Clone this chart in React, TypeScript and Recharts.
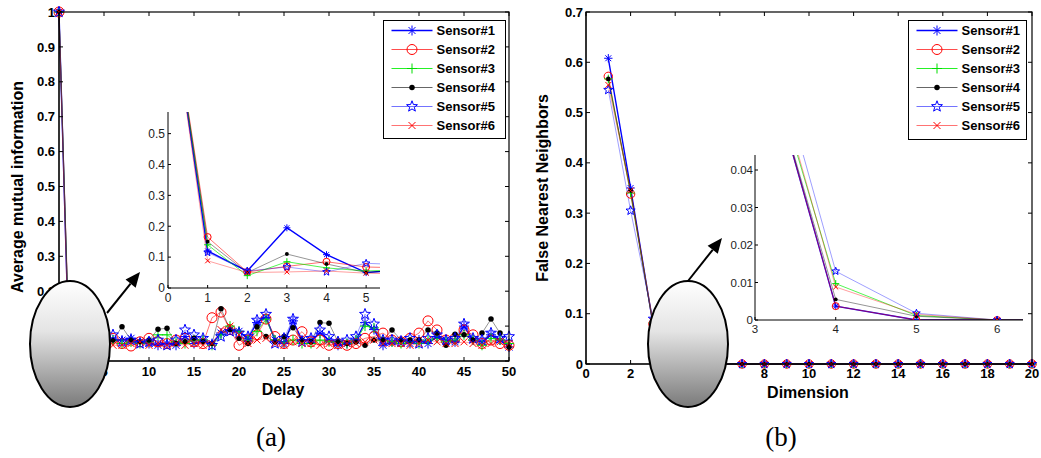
import React from 'react';
import { LineChart, Line, XAxis, YAxis, Legend } from 'recharts';

// ---------- data ----------
const delays = [0, 1, 2, 3, 4, 5, 6, 7, 8, 9, 10, 11, 12, 13, 14, 15, 16, 17, 18, 19, 20, 21, 22, 23, 24, 25, 26, 27, 28, 29, 30, 31, 32, 33, 34, 35, 36, 37, 38, 39, 40, 41, 42, 43, 44, 45, 46, 47, 48, 49, 50];
const amiS1 = [1, 0.12, 0.055, 0.195, 0.108, 0.05, 0.06, 0.06, 0.065, 0.055, 0.05, 0.045, 0.05, 0.045, 0.07, 0.05, 0.06, 0.05, 0.08, 0.09, 0.085, 0.065, 0.11, 0.125, 0.06, 0.05, 0.115, 0.06, 0.06, 0.08, 0.06, 0.045, 0.05, 0.06, 0.11, 0.09, 0.045, 0.055, 0.06, 0.05, 0.06, 0.05, 0.07, 0.06, 0.055, 0.1, 0.06, 0.055, 0.075, 0.06, 0.04];
const amiS2 = [1, 0.165, 0.052, 0.07, 0.085, 0.068, 0.065, 0.05, 0.043, 0.055, 0.065, 0.055, 0.05, 0.06, 0.065, 0.055, 0.05, 0.124, 0.14, 0.09, 0.045, 0.06, 0.075, 0.12, 0.07, 0.05, 0.06, 0.084, 0.055, 0.06, 0.045, 0.05, 0.045, 0.05, 0.065, 0.07, 0.08, 0.06, 0.055, 0.065, 0.08, 0.115, 0.089, 0.06, 0.065, 0.089, 0.075, 0.05, 0.06, 0.05, 0.045];
const amiS3 = [1, 0.14, 0.04, 0.085, 0.065, 0.055, 0.06, 0.05, 0.055, 0.05, 0.055, 0.075, 0.075, 0.055, 0.05, 0.06, 0.06, 0.045, 0.075, 0.1, 0.085, 0.06, 0.085, 0.12, 0.06, 0.055, 0.06, 0.05, 0.05, 0.06, 0.055, 0.055, 0.05, 0.06, 0.1, 0.095, 0.06, 0.055, 0.05, 0.055, 0.05, 0.06, 0.065, 0.055, 0.06, 0.075, 0.06, 0.045, 0.065, 0.06, 0.05];
const amiS4 = [1, 0.15, 0.05, 0.11, 0.078, 0.05, 0.06, 0.098, 0.06, 0.055, 0.06, 0.091, 0.094, 0.05, 0.055, 0.065, 0.055, 0.05, 0.15, 0.09, 0.065, 0.05, 0.098, 0.07, 0.055, 0.07, 0.095, 0.06, 0.055, 0.11, 0.108, 0.055, 0.05, 0.055, 0.045, 0.06, 0.06, 0.089, 0.06, 0.06, 0.06, 0.089, 0.08, 0.045, 0.077, 0.075, 0.06, 0.08, 0.12, 0.08, 0.04];
const amiS5 = [1, 0.115, 0.055, 0.068, 0.052, 0.08, 0.075, 0.055, 0.06, 0.05, 0.055, 0.06, 0.045, 0.06, 0.089, 0.075, 0.065, 0.045, 0.07, 0.085, 0.08, 0.07, 0.117, 0.134, 0.05, 0.065, 0.12, 0.055, 0.065, 0.089, 0.07, 0.055, 0.06, 0.07, 0.134, 0.106, 0.06, 0.06, 0.055, 0.065, 0.05, 0.065, 0.075, 0.06, 0.065, 0.106, 0.065, 0.06, 0.08, 0.065, 0.07];
const amiS6 = [1, 0.088, 0.05, 0.052, 0.055, 0.048, 0.045, 0.045, 0.05, 0.055, 0.045, 0.05, 0.045, 0.05, 0.045, 0.05, 0.045, 0.05, 0.09, 0.1, 0.075, 0.05, 0.06, 0.065, 0.05, 0.045, 0.055, 0.05, 0.05, 0.045, 0.05, 0.045, 0.05, 0.05, 0.055, 0.06, 0.05, 0.05, 0.05, 0.045, 0.05, 0.06, 0.055, 0.05, 0.05, 0.055, 0.05, 0.045, 0.05, 0.055, 0.05];

const dims = [1, 2, 3, 4, 5, 6, 7, 8, 9, 10, 11, 12, 13, 14, 15, 16, 17, 18, 19, 20];
const fnnS1 = [0.608, 0.35, 0.08, 0.0037, 0, 0, 0, 0, 0, 0, 0, 0, 0, 0, 0, 0, 0, 0, 0, 0];
const fnnS2 = [0.572, 0.338, 0.08, 0.0037, 0, 0, 0, 0, 0, 0, 0, 0, 0, 0, 0, 0, 0, 0, 0, 0];
const fnnS3 = [0.567, 0.34, 0.082, 0.0097, 0.0012, 0, 0, 0, 0, 0, 0, 0, 0, 0, 0, 0, 0, 0, 0, 0];
const fnnS4 = [0.567, 0.345, 0.08, 0.0055, 0.001, 0, 0, 0, 0, 0, 0, 0, 0, 0, 0, 0, 0, 0, 0, 0];
const fnnS5 = [0.545, 0.305, 0.09, 0.013, 0.0018, 0, 0, 0, 0, 0, 0, 0, 0, 0, 0, 0, 0, 0, 0, 0];
const fnnS6 = [0.555, 0.345, 0.085, 0.0088, 0.0015, 0, 0, 0, 0, 0, 0, 0, 0, 0, 0, 0, 0, 0, 0, 0];

const seriesNames = ['Sensor#1', 'Sensor#2', 'Sensor#3', 'Sensor#4', 'Sensor#5', 'Sensor#6'];

// tick labels
const amiXTicks = [0, 5, 10, 15, 20, 25, 30, 35, 40, 45, 50];
const amiYTicks = [0, 0.1, 0.2, 0.3, 0.4, 0.5, 0.6, 0.7, 0.8, 0.9, 1];
const amiInsetXTicks = [0, 1, 2, 3, 4, 5];
const amiInsetYTicks = [0, 0.1, 0.2, 0.3, 0.4, 0.5];
const fnnXTicks = [0, 2, 4, 6, 8, 10, 12, 14, 16, 18, 20];
const fnnYTicks = [0, 0.1, 0.2, 0.3, 0.4, 0.5, 0.6, 0.7];
const fnnInsetXTicks = [3, 4, 5, 6];
const fnnInsetYTicks = [0, 0.01, 0.02, 0.03, 0.04];

// ---------- tables ----------
const amiData = delays.map((d, i) => ({ x: d, s1: amiS1[i], s2: amiS2[i], s3: amiS3[i], s4: amiS4[i], s5: amiS5[i], s6: amiS6[i] }));
const fnnData = dims.map((d, i) => ({ x: d, s1: fnnS1[i], s2: fnnS2[i], s3: fnnS3[i], s4: fnnS4[i], s5: fnnS5[i], s6: fnnS6[i] }));

// ---------- layout ----------
const A = { left: 0, top: 0, w: 520, h: 400, m: { left: 19, right: 11, top: 12, bottom: 9 }, yw: 40, xh: 30 };
const B = { left: 520, top: 0, w: 521, h: 400, m: { left: 26, right: 9, top: 12, bottom: 6 }, yw: 40, xh: 30 };
function plotRect(c: typeof A) {
  return {
    x0: c.left + c.m.left + c.yw,
    x1: c.left + c.w - c.m.right,
    y0: c.top + c.m.top,
    y1: c.top + c.h - c.m.bottom - c.xh,
  };
}

// ---------- styles ----------
type Kind = 'asterisk' | 'circle' | 'plus' | 'dot' | 'star' | 'x';
const SERIES: { key: string; color: string; markColor: string; width: number; opacity: number; marker: Kind }[] = [
  { key: 's1', color: '#0000ff', markColor: '#0000ff', width: 1.4, opacity: 1, marker: 'asterisk' },
  { key: 's2', color: '#ff0000', markColor: '#ff0000', width: 0.8, opacity: 0.7, marker: 'circle' },
  { key: 's3', color: '#00ee00', markColor: '#00dd00', width: 0.8, opacity: 0.85, marker: 'plus' },
  { key: 's4', color: '#000000', markColor: '#000000', width: 0.7, opacity: 0.6, marker: 'dot' },
  { key: 's5', color: '#0000ff', markColor: '#0000ff', width: 0.7, opacity: 0.55, marker: 'star' },
  { key: 's6', color: '#ff0000', markColor: '#ff0000', width: 0.7, opacity: 0.55, marker: 'x' },
];

const SANS = '"Liberation Sans", Arial, Helvetica, sans-serif';
const boldTick = { fontSize: 13, fontWeight: 'bold' as const, fill: '#000', fontFamily: SANS };
const thinTick = { fontSize: 12, fill: '#222', fontFamily: SANS };
const thinTickB = { fontSize: 11.5, fill: '#222', fontFamily: SANS };
const axLine = { stroke: '#000', strokeWidth: 1 };
const fmt = (v: number) => String(v);

function Marker({ kind, cx, cy, s, color }: { kind: Kind; cx: number; cy: number; s: number; color: string }) {
  if (cx == null || cy == null || isNaN(cx) || isNaN(cy)) return <g />;
  const sw = 1;
  switch (kind) {
    case 'asterisk': {
      const d = s * 0.7;
      return (
        <g stroke={color} strokeWidth={sw}>
          <line x1={cx - s} y1={cy} x2={cx + s} y2={cy} />
          <line x1={cx} y1={cy - s} x2={cx} y2={cy + s} />
          <line x1={cx - d} y1={cy - d} x2={cx + d} y2={cy + d} />
          <line x1={cx - d} y1={cy + d} x2={cx + d} y2={cy - d} />
        </g>
      );
    }
    case 'circle':
      return <circle cx={cx} cy={cy} r={s} fill="none" stroke={color} strokeWidth={sw} />;
    case 'plus':
      return (
        <g stroke={color} strokeWidth={sw}>
          <line x1={cx - s} y1={cy} x2={cx + s} y2={cy} />
          <line x1={cx} y1={cy - s} x2={cx} y2={cy + s} />
        </g>
      );
    case 'dot':
      return <circle cx={cx} cy={cy} r={s * 0.55} fill={color} />;
    case 'star': {
      const R = s * 1.15;
      const r = R * 0.42;
      const pts: string[] = [];
      for (let k = 0; k < 10; k++) {
        const a = -Math.PI / 2 + (k * Math.PI) / 5;
        const rr = k % 2 === 0 ? R : r;
        pts.push(`${cx + rr * Math.cos(a)},${cy + rr * Math.sin(a)}`);
      }
      return <polygon points={pts.join(' ')} fill="none" stroke={color} strokeWidth={sw} />;
    }
    case 'x': {
      const d = s * 0.7;
      return (
        <g stroke={color} strokeWidth={sw}>
          <line x1={cx - d} y1={cy - d} x2={cx + d} y2={cy + d} />
          <line x1={cx - d} y1={cy + d} x2={cx + d} y2={cy - d} />
        </g>
      );
    }
  }
  return <g />;
}

function renderLines(size: number, prefix: string) {
  return SERIES.map((s, i) => (
    <Line
      key={s.key}
      type="linear"
      dataKey={s.key}
      name={seriesNames[i]}
      stroke={s.color}
      strokeOpacity={s.opacity}
      strokeWidth={s.width}
      isAnimationActive={false}
      activeDot={false}
      dot={(p: any) => (
        <Marker key={`${prefix}-${s.key}-${p.index}`} kind={s.marker} cx={p.cx} cy={p.cy} s={size} color={s.markColor} />
      )}
    />
  ));
}

function makeLegend(w: number, h: number) {
  return (props: any) => {
    const payload: any[] = (props.payload || []).filter((it: any) => SERIES.some((s) => s.key === it.dataKey));
    return (
      <div style={{ width: w, height: h, border: '1.5px solid #000', background: '#fff', boxSizing: 'border-box' }}>
        <svg width={w - 3} height={h - 3} style={{ display: 'block' }}>
          {payload.map((it, i) => {
            const cfg = SERIES.find((s) => s.key === it.dataKey) || SERIES[i];
            const y = 9.5 + i * 19;
            return (
              <g key={cfg.key}>
                <line x1={7.5} y1={y} x2={48.5} y2={y} stroke={cfg.color} strokeOpacity={cfg.opacity} strokeWidth={cfg.width + 0.3} />
                <Marker kind={cfg.marker} cx={28} cy={y} s={5} color={cfg.markColor} />
                <text x={52.5} y={y + 4.6} fontFamily={SANS} fontWeight="bold" fontSize={13} fill="#000">
                  {it.value}
                </text>
              </g>
            );
          })}
        </svg>
      </div>
    );
  };
}

// full MATLAB-style box outline plus inward ticks on the top and right edges
function frame(c: typeof A, xTicks: number[], xMax: number, yTicks: number[], yMax: number, id: string) {
  const r = plotRect(c);
  const px = (v: number) => r.x0 + (v / xMax) * (r.x1 - r.x0);
  const py = (v: number) => r.y1 - (v / yMax) * (r.y1 - r.y0);
  const out: React.ReactNode[] = [];
  out.push(
    <rect key={`${id}box`} x={r.x0} y={r.y0} width={r.x1 - r.x0} height={r.y1 - r.y0} fill="none" stroke="#000" strokeWidth={1.2} />
  );
  xTicks.forEach((t) => out.push(<line key={`${id}x${t}`} x1={px(t)} y1={r.y0} x2={px(t)} y2={r.y0 + 4} stroke="#000" strokeWidth={1} />));
  yTicks.forEach((t) => out.push(<line key={`${id}y${t}`} x1={r.x1} y1={py(t)} x2={r.x1 - 4} y2={py(t)} stroke="#000" strokeWidth={1} />));
  return out;
}

function arrow(x0: number, y0: number, tx: number, ty: number) {
  const dx = tx - x0;
  const dy = ty - y0;
  const len = Math.hypot(dx, dy);
  const ux = dx / len;
  const uy = dy / len;
  const hl = 15;
  const hw = 6.5;
  const bx = tx - hl * ux;
  const by = ty - hl * uy;
  const nx = -uy;
  const ny = ux;
  return (
    <g>
      <line x1={x0} y1={y0} x2={bx} y2={by} stroke="#000" strokeWidth={2} />
      <polygon points={`${tx},${ty} ${bx + hw * nx},${by + hw * ny} ${bx - hw * nx},${by - hw * ny}`} fill="#000" />
    </g>
  );
}

function Overlay() {
  return (
    <svg width={1041} height={458} style={{ position: 'absolute', left: 0, top: 0, pointerEvents: 'none' }}>
      <defs>
        <linearGradient id="ellGrad" x1="0" y1="0" x2="0" y2="1">
          <stop offset="0" stopColor="#ffffff" />
          <stop offset="0.4" stopColor="#e4e4e4" />
          <stop offset="1" stopColor="#7a7a7a" />
        </linearGradient>
      </defs>
      {frame(A, amiXTicks, 50, amiYTicks, 1, 'fa')}
      {frame(B, fnnXTicks, 20, fnnYTicks, 0.7, 'fb')}
      <ellipse cx={70} cy={344} rx={40} ry={63} fill="url(#ellGrad)" stroke="#000" strokeWidth={2} />
      <ellipse cx={688} cy={344} rx={40} ry={63} fill="url(#ellGrad)" stroke="#000" strokeWidth={2} />
      {arrow(107, 313, 140, 272)}
      {arrow(688, 281, 722, 238)}
      <text x={283} y={395} textAnchor="middle" fontFamily={SANS} fontWeight="bold" fontSize={16} fill="#000">Delay</text>
      <text x={808} y={398} textAnchor="middle" fontFamily={SANS} fontWeight="bold" fontSize={16} fill="#000">Dimension</text>
      <text transform="translate(23,187) rotate(-90)" textAnchor="middle" fontFamily={SANS} fontWeight="bold" fontSize={16} fill="#000">
        Average mutual information
      </text>
      <text transform="translate(548,188) rotate(-90)" textAnchor="middle" fontFamily={SANS} fontWeight="bold" fontSize={16} fill="#000">
        False Nearest Neighbors
      </text>
      <text x={271} y={446} textAnchor="middle" fontFamily='"Liberation Serif", "Times New Roman", serif' fontSize={27} fill="#000">(a)</text>
      <text x={781} y={446} textAnchor="middle" fontFamily='"Liberation Serif", "Times New Roman", serif' fontSize={27} fill="#000">(b)</text>
    </svg>
  );
}

export default function App() {
  return (
    <div style={{ position: 'absolute', left: 0, top: 0, width: 1041, height: 458, background: '#fff', overflow: 'hidden' }}>
      {/* (a) main */}
      <div style={{ position: 'absolute', left: A.left, top: A.top }}>
        <LineChart width={A.w} height={A.h} data={amiData} margin={A.m}>
          <XAxis dataKey="x" type="number" domain={[0, 50]} ticks={amiXTicks} interval={0} height={A.xh} tickSize={-4} tickMargin={10} tick={boldTick} tickFormatter={fmt} axisLine={axLine} tickLine={axLine} />
          <YAxis type="number" domain={[0, 1]} ticks={amiYTicks} interval={0} width={A.yw} tickSize={-4} tickMargin={8} tick={boldTick} tickFormatter={fmt} axisLine={axLine} tickLine={axLine} />
          {renderLines(5, 'am')}
          <Legend layout="vertical" align="center" verticalAlign="middle" wrapperStyle={{ left: 383, top: 20, width: 123, height: 119 }} content={makeLegend(123, 119)} />
        </LineChart>
      </div>
      {/* (a) inset */}
      <div style={{ position: 'absolute', left: 130, top: 100 }}>
        <LineChart width={260} height={210} data={amiData} margin={{ left: 8, right: 10, top: 12, bottom: 2 }}>
          <XAxis dataKey="x" type="number" domain={[0, 5.35]} allowDataOverflow ticks={amiInsetXTicks} interval={0} height={20} tickSize={-3} tickMargin={8} tick={thinTick} tickFormatter={fmt} axisLine={axLine} tickLine={axLine} />
          <YAxis type="number" domain={[0, 0.57]} allowDataOverflow ticks={amiInsetYTicks} interval={0} width={30} tickSize={-3} tickMargin={6} tick={thinTick} tickFormatter={fmt} axisLine={axLine} tickLine={axLine} />
          {renderLines(3.5, 'ai')}
        </LineChart>
      </div>
      {/* (b) main */}
      <div style={{ position: 'absolute', left: B.left, top: B.top }}>
        <LineChart width={B.w} height={B.h} data={fnnData} margin={B.m}>
          <XAxis dataKey="x" type="number" domain={[0, 20]} ticks={fnnXTicks} interval={0} height={B.xh} tickSize={-4} tickMargin={9} tick={boldTick} tickFormatter={fmt} axisLine={axLine} tickLine={axLine} />
          <YAxis type="number" domain={[0, 0.7]} ticks={fnnYTicks} interval={0} width={B.yw} tickSize={-4} tickMargin={7} tick={boldTick} tickFormatter={fmt} axisLine={axLine} tickLine={axLine} />
          {renderLines(4.2, 'bm')}
          <Legend layout="vertical" align="center" verticalAlign="middle" wrapperStyle={{ left: 388, top: 20, width: 119, height: 120 }} content={makeLegend(119, 120)} />
        </LineChart>
      </div>
      {/* (b) inset */}
      <div style={{ position: 'absolute', left: 715, top: 143 }}>
        <LineChart width={320} height={200} data={fnnData} margin={{ left: 8, right: 12, top: 12, bottom: 3 }}>
          <XAxis dataKey="x" type="number" domain={[3, 6.32]} allowDataOverflow ticks={fnnInsetXTicks} interval={0} height={20} tickSize={-3} tickMargin={8} tick={thinTickB} tickFormatter={fmt} axisLine={axLine} tickLine={axLine} />
          <YAxis type="number" domain={[0, 0.044]} allowDataOverflow ticks={fnnInsetYTicks} interval={0} width={32} tickSize={-3} tickMargin={5} tick={thinTickB} tickFormatter={fmt} axisLine={axLine} tickLine={axLine} />
          {renderLines(3.5, 'bi')}
        </LineChart>
      </div>
      <Overlay />
    </div>
  );
}
